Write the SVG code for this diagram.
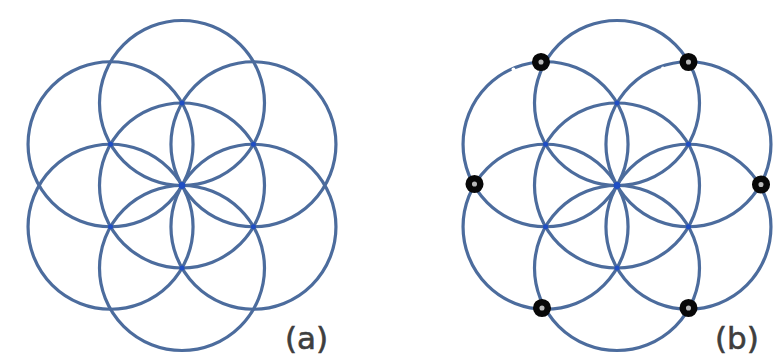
<svg xmlns="http://www.w3.org/2000/svg" xmlns:xlink="http://www.w3.org/1999/xlink" width="774" height="360" viewBox="0 0 774 360">
  <style>
    .ring { fill: none; stroke: #4c6c9d; stroke-width: 3.2; }
    .node { fill: #1f4ec4; }
    .mark { fill: #b9b9b9; stroke: #080808; stroke-width: 6.5; }
    .gap { fill: #ffffff; }
    .label { font-family: "DejaVu Sans", "Liberation Sans", sans-serif; font-size: 31px; fill: #3e3e3e; stroke: #3e3e3e; stroke-width: 0.6; }
  </style>
  <defs>
    <g id="seed">
      <circle class="ring" cx="0" cy="0" r="82.5"/>
      <circle class="ring" cx="0" cy="-82.5" r="82.5"/>
      <circle class="ring" cx="0" cy="82.5" r="82.5"/>
      <circle class="ring" cx="-71.45" cy="-41.25" r="82.5"/>
      <circle class="ring" cx="71.45" cy="-41.25" r="82.5"/>
      <circle class="ring" cx="-71.45" cy="41.25" r="82.5"/>
      <circle class="ring" cx="71.45" cy="41.25" r="82.5"/>
      <circle class="node" cx="0" cy="0" r="3.4"/>
      <circle class="node" cx="0" cy="-82.5" r="2.5"/>
      <circle class="node" cx="0" cy="82.5" r="2.5"/>
      <circle class="node" cx="-71.45" cy="-41.25" r="2.5"/>
      <circle class="node" cx="71.45" cy="-41.25" r="2.5"/>
      <circle class="node" cx="-71.45" cy="41.25" r="2.5"/>
      <circle class="node" cx="71.45" cy="41.25" r="2.5"/>
    </g>
  </defs>
  <rect width="774" height="360" fill="#ffffff"/>

  <g id="figure-a">
    <use xlink:href="#seed" href="#seed" transform="translate(182,185.5)"/>
    <text class="label" x="285" y="349">(a)</text>
  </g>

  <g id="figure-b">
    <use xlink:href="#seed" href="#seed" transform="translate(617,185.5)"/>
    <circle class="gap" cx="513.5" cy="69.5" r="2"/>
    <circle class="gap" cx="663" cy="68.5" r="2"/>
    <g id="marks">
      <circle class="mark" cx="541" cy="62" r="5.8"/>
      <circle class="mark" cx="688.5" cy="62" r="5.8"/>
      <circle class="mark" cx="474.5" cy="184" r="5.8"/>
      <circle class="mark" cx="761" cy="184.5" r="5.8"/>
      <circle class="mark" cx="542" cy="308" r="5.8"/>
      <circle class="mark" cx="688.5" cy="308" r="5.8"/>
    </g>
    <text class="label" x="715" y="349">(b)</text>
  </g>
</svg>
